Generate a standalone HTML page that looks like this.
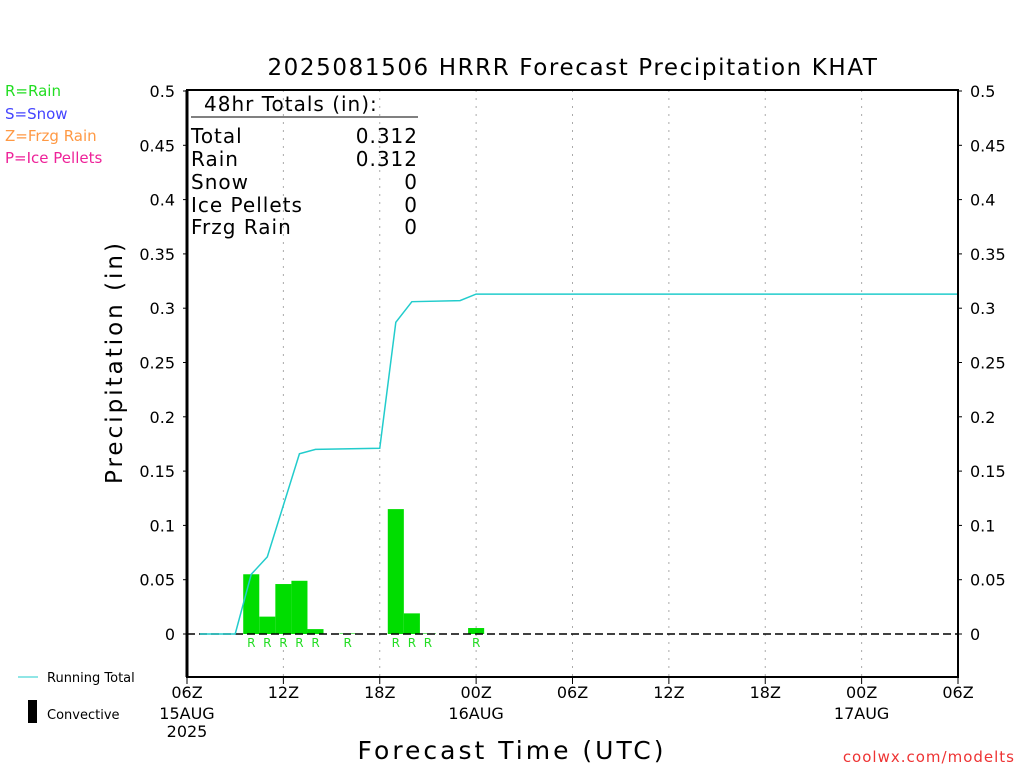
<!DOCTYPE html>
<html><head><meta charset="utf-8"><style>
html,body{margin:0;padding:0;background:#fff;width:1024px;height:768px;overflow:hidden}
svg{display:block;font-family:"DejaVu Sans","Liberation Sans",sans-serif}
</style></head><body>
<svg id="chart" width="1024" height="768" viewBox="0 0 1024 768" xmlns="http://www.w3.org/2000/svg">
<rect width="1024" height="768" fill="#fff"/>
<text x="573" y="75" font-size="23" text-anchor="middle" fill="#000" letter-spacing="1.6">2025081506 HRRR Forecast Precipitation KHAT</text>
<g font-size="15">
<text x="5" y="96" fill="#22dd22">R=Rain</text>
<text x="5" y="119" fill="#4444ff">S=Snow</text>
<text x="5" y="141" fill="#ff9944">Z=Frzg Rain</text>
<text x="5" y="163" fill="#ee2299">P=Ice Pellets</text>
</g>
<g id="grid"></g>
<g id="marks"></g>
<rect x="187" y="90" width="771" height="587" fill="none" stroke="#000" stroke-width="2"/>
<line x1="187" y1="90" x2="187" y2="677" stroke="#000" stroke-width="3"/>
<g id="axes" font-size="16" fill="#000"></g>
<text transform="translate(122,362) rotate(-90)" font-size="23" text-anchor="middle" letter-spacing="3">Precipitation (in)</text>
<text x="512" y="759" font-size="25" text-anchor="middle" letter-spacing="3">Forecast Time (UTC)</text>
<text x="1015" y="762" font-size="15" text-anchor="end" fill="#ee3333" letter-spacing="1">coolwx.com/modelts</text>
<g font-size="20" fill="#000" letter-spacing="1">
<text x="204" y="111">48hr Totals (in):</text>
<line x1="191" y1="117" x2="418" y2="117" stroke="#000" stroke-width="1"/>
<text x="191" y="143">Total</text><text x="418" y="143" text-anchor="end">0.312</text>
<text x="191" y="166">Rain</text><text x="418" y="166" text-anchor="end">0.312</text>
<text x="191" y="189">Snow</text><text x="418" y="189" text-anchor="end">0</text>
<text x="191" y="212">Ice Pellets</text><text x="418" y="212" text-anchor="end">0</text>
<text x="191" y="234">Frzg Rain</text><text x="418" y="234" text-anchor="end">0</text>
</g>
<g font-size="13" fill="#000">
<line x1="18" y1="677" x2="38" y2="677" stroke="#22cccc" stroke-width="1"/>
<text x="47" y="682">Running Total</text>
<rect x="28" y="700" width="9" height="23" fill="#000"/>
<text x="47" y="719">Convective</text>
</g>
</svg>
<script>
const barHours=[4,5,6,7,8,10,13,14,15,18];
const barValues=[0.055,0.016,0.046,0.049,0.0045,0.0005,0.115,0.019,0.0005,0.0055];
const lineHours=[0.8,3,4,5,7,8,12,13,14,17,18,48];
const lineValues=[0,0,0.055,0.071,0.166,0.17,0.171,0.287,0.306,0.307,0.313,0.313];
const yTicks=[0,0.05,0.1,0.15,0.2,0.25,0.3,0.35,0.4,0.45,0.5];
const yTickLabels=["0","0.05","0.1","0.15","0.2","0.25","0.3","0.35","0.4","0.45","0.5"];
const xTickHours=[0,6,12,18,24,30,36,42,48];
const xTickLabels=["06Z","12Z","18Z","00Z","06Z","12Z","18Z","00Z","06Z"];
const xDateLabels=["15AUG\n2025","","","16AUG","","","","17AUG",""];
const NS="http://www.w3.org/2000/svg";
const X0=187,X1=958,Y0=634,PX=543/0.5;
function xs(h){return X0+(X1-X0)*h/48;}
function ys(v){return Y0-v*PX;}
function mk(t,a,p){const e=document.createElementNS(NS,t);for(const k in a)e.setAttribute(k,a[k]);p.appendChild(e);return e;}
const grid=document.getElementById('grid'),marks=document.getElementById('marks'),axes=document.getElementById('axes');
xTickHours.forEach((h,i)=>{if(i>0&&i<xTickHours.length-1){const l=mk('line',{x1:xs(h),y1:90,x2:xs(h),y2:677,stroke:'#aaa','stroke-dasharray':'2,6'},grid);

}});
barHours.forEach((h,i)=>{const w=(X1-X0)/48;const r=mk('rect',{x:xs(h)-w/2,y:ys(barValues[i]),width:w,height:Y0-ys(barValues[i]),fill:'#00dd00'},marks);


const t=mk('text',{x:xs(h),y:647,'font-size':12,'text-anchor':'middle',fill:'#22dd22'},marks);t.textContent='R';

});
const z=mk('line',{x1:X0,y1:Y0,x2:X1,y2:Y0,stroke:'#000','stroke-width':1.5,'stroke-dasharray':'8,4'},marks);


const pl=mk('polyline',{points:lineHours.map((h,i)=>xs(h)+','+ys(lineValues[i])).join(' '),fill:'none',stroke:'#22cccc','stroke-width':1.5},marks);


yTicks.forEach((v,i)=>{const y=ys(v);
mk('line',{x1:X0,y1:y,x2:X0-4,y2:y,stroke:'#000'},axes);mk('line',{x1:X1,y1:y,x2:X1+4,y2:y,stroke:'#000'},axes);
const a=mk('text',{x:175,y:y+6,'text-anchor':'end'},axes);a.textContent=yTickLabels[i];


const b=mk('text',{x:970,y:y+6},axes);b.textContent=yTickLabels[i];

});
xTickHours.forEach((h,i)=>{const x=xs(h);mk('line',{x1:x,y1:677,x2:x,y2:684,stroke:'#000'},axes);
const t=mk('text',{x:x,y:698,'text-anchor':'middle'},axes);t.textContent=xTickLabels[i];


xDateLabels[i].split('\n').forEach((s,j)=>{if(!s)return;const d=mk('text',{x:x,y:719+j*18,'text-anchor':'middle'},axes);d.textContent=s;

});});
</script>
</body></html>
